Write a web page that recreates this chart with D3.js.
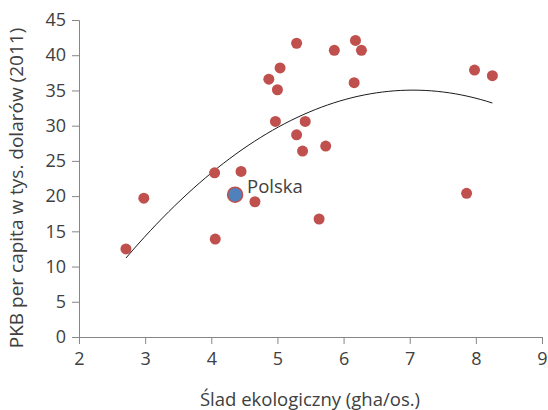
<!DOCTYPE html>
<html>
<head>
<meta charset="utf-8">
<script src="https://cdn.jsdelivr.net/npm/d3@7"></script>
<style>
  body { margin: 0; background: #fff; }
  svg { display: block; }
  text { font-family: "Open Sans", sans-serif; fill: #404040; }
</style>
</head>
<body>
<script>
// ecological footprint (gha/person) and GDP per capita (thousand USD, 2011)
const footprint = [2.71, 2.98, 4.05, 4.06, 4.45, 4.66, 4.87, 5.04, 5.00, 4.97, 5.29, 5.86,
                   6.18, 6.27, 6.16, 7.98, 8.25, 5.42, 5.29, 5.38, 5.73, 7.86, 5.63];
const gdp = [12.5, 19.7, 23.3, 13.9, 23.5, 19.2, 36.6, 38.2, 35.1, 30.6, 41.7, 40.7,
             42.1, 40.7, 36.1, 37.9, 37.1, 30.6, 28.7, 26.4, 27.1, 20.4, 16.75];
const polska = { x: 4.36, y: 20.2, label: 'Polska' };

const xTicks = [2, 3, 4, 5, 6, 7, 8, 9];
const yTicks = [0, 5, 10, 15, 20, 25, 30, 35, 40, 45];

const width = 548, height = 410;
const margin = { top: 20, right: 6, bottom: 73, left: 79 };

const svg = d3.select('body').append('svg')
    .attr('width', width)
    .attr('height', height);

const x = d3.scaleLinear().domain([2, 9]).range([margin.left, width - margin.right]);
const y = d3.scaleLinear().domain([0, 45]).range([height - margin.bottom, margin.top]);

// axes
const xAxis = svg.append('g')
    .attr('transform', `translate(0,${height - margin.bottom})`)
    .call(d3.axisBottom(x).tickValues(xTicks).tickFormat(d3.format('d')).tickSize(7).tickPadding(8));
const yAxis = svg.append('g')
    .attr('transform', `translate(${margin.left},0)`)
    .call(d3.axisLeft(y).tickValues(yTicks).tickSize(7).tickPadding(6));

[xAxis, yAxis].forEach(g => {
    g.select('.domain').attr('stroke', '#868686').attr('stroke-width', 1);
    g.selectAll('.tick line').attr('stroke', '#868686');
    g.selectAll('.tick text').attr('font-size', 18).attr('fill', '#404040')
        .attr('font-family', '"Open Sans", sans-serif');
});

// quadratic trend line (least squares, like the spreadsheet trendline)
const allX = footprint.concat([polska.x]);
const allY = gdp.concat([polska.y]);
function polyFit2(xs, ys) {
    const S = k => d3.sum(xs, v => Math.pow(v, k));
    const T = k => d3.sum(xs, (v, i) => Math.pow(v, k) * ys[i]);
    const A = [[S(0), S(1), S(2), T(0)], [S(1), S(2), S(3), T(1)], [S(2), S(3), S(4), T(2)]];
    for (let i = 0; i < 3; i++) {
        for (let j = i + 1; j < 3; j++) {
            const f = A[j][i] / A[i][i];
            for (let k = i; k < 4; k++) A[j][k] -= f * A[i][k];
        }
    }
    const c = [0, 0, 0];
    for (let i = 2; i >= 0; i--) {
        let s = A[i][3];
        for (let k = i + 1; k < 3; k++) s -= A[i][k] * c[k];
        c[i] = s / A[i][i];
    }
    return c;
}
const coef = polyFit2(allX, allY);
const [xMin, xMax] = d3.extent(allX);
const trendX = d3.range(0, 61).map(i => xMin + (xMax - xMin) * i / 60);
const line = d3.line()
    .x(d => x(d))
    .y(d => y(coef[0] + coef[1] * d + coef[2] * d * d));

svg.append('path')
    .datum(trendX)
    .attr('fill', 'none')
    .attr('stroke', '#1a1a1a')
    .attr('stroke-width', 1)
    .attr('d', line);

// country points
svg.selectAll('circle.pt')
    .data(footprint)
    .enter().append('circle')
    .attr('class', 'pt')
    .attr('cx', d => x(d))
    .attr('cy', (d, i) => y(gdp[i]))
    .attr('r', 5.5)
    .attr('fill', '#C0504D');

// Poland highlighted
svg.append('circle')
    .attr('cx', x(polska.x))
    .attr('cy', y(polska.y))
    .attr('r', 7.5)
    .attr('fill', '#4F81BD')
    .attr('stroke', '#C0504D')
    .attr('stroke-width', 1.5);

svg.append('text')
    .attr('x', x(polska.x) + 12)
    .attr('y', y(polska.y) - 7)
    .attr('dominant-baseline', 'middle')
    .attr('font-size', 18.5)
    .text(polska.label);

// axis titles
svg.append('text')
    .attr('x', 310)
    .attr('y', 406)
    .attr('text-anchor', 'middle')
    .attr('font-size', 18.5)
    .text('Ślad ekologiczny (gha/os.)');

svg.append('text')
    .attr('transform', 'translate(18,188) rotate(-90)')
    .attr('dominant-baseline', 'middle')
    .attr('text-anchor', 'middle')
    .attr('font-size', 19)
    .text('PKB per capita w tys. dolarów (2011)');
</script>
</body>
</html>
